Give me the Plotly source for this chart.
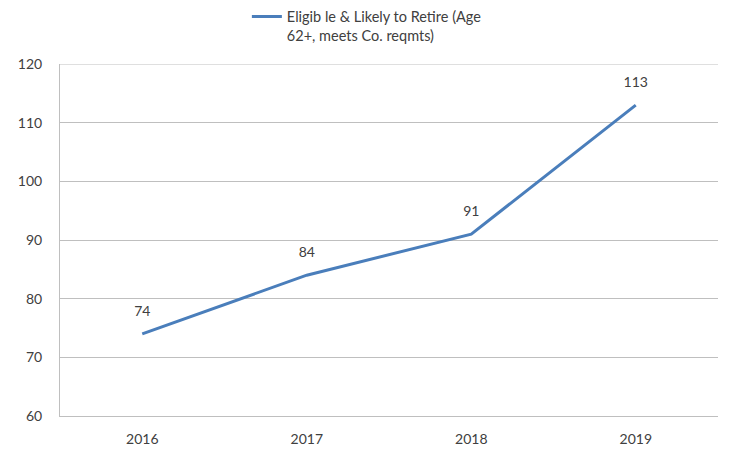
import plotly.graph_objects as go

years = ["2016", "2017", "2018", "2019"]
retire = [74, 84, 91, 113]
series_name = "Eligib le & Likely to Retire (Age<br>62+, meets Co. reqmts)"

FONT = "Lato, Open Sans, sans-serif"
BLUE = "#4A7EBB"

fig = go.Figure()
fig.add_trace(go.Scatter(
    x=years, y=retire, name=series_name,
    mode="lines",
    line=dict(color=BLUE, width=3),
    showlegend=True,
))
fig.add_trace(go.Scatter(
    x=years, y=retire, name="labels",
    mode="markers+text", text=[str(v) for v in retire],
    textposition="top center",
    textfont=dict(family=FONT, size=14, color="#404040"),
    marker=dict(size=22, opacity=0, color=BLUE),
    showlegend=False, hoverinfo="skip",
))

fig.update_layout(
    width=742, height=454,
    margin=dict(l=52, r=32, t=56, b=46, autoexpand=False),
    paper_bgcolor="white", plot_bgcolor="white",
    font=dict(family=FONT, size=14, color="#404040"),
    showlegend=True,
    legend=dict(x=0.284, y=1.18, xref="paper", yref="paper",
                xanchor="left", yanchor="top",
                orientation="h", valign="top",
                font=dict(size=14.5, color="#404040"),
                bgcolor="rgba(0,0,0,0)"),
    xaxis=dict(type="category", range=[-0.5, 3.5], showgrid=False,
               showline=True, linecolor="#BFBFBF", linewidth=1,
               ticks="", ticklabelstandoff=10, automargin=False,
               tickfont=dict(size=14, color="#404040"),
               fixedrange=True),
    yaxis=dict(range=[60, 120], dtick=10, showgrid=True,
               gridcolor="#BFBFBF", gridwidth=1,
               showline=True, linecolor="#BFBFBF", linewidth=1,
               zeroline=False, ticks="", ticklabelstandoff=14, automargin=False,
               tickfont=dict(size=14, color="#404040")),
)
fig.add_shape(type="line", xref="paper", yref="y", x0=0, x1=1, y0=120, y1=120,
              line=dict(color="#BFBFBF", width=1))

fig.write_html("out.html")
